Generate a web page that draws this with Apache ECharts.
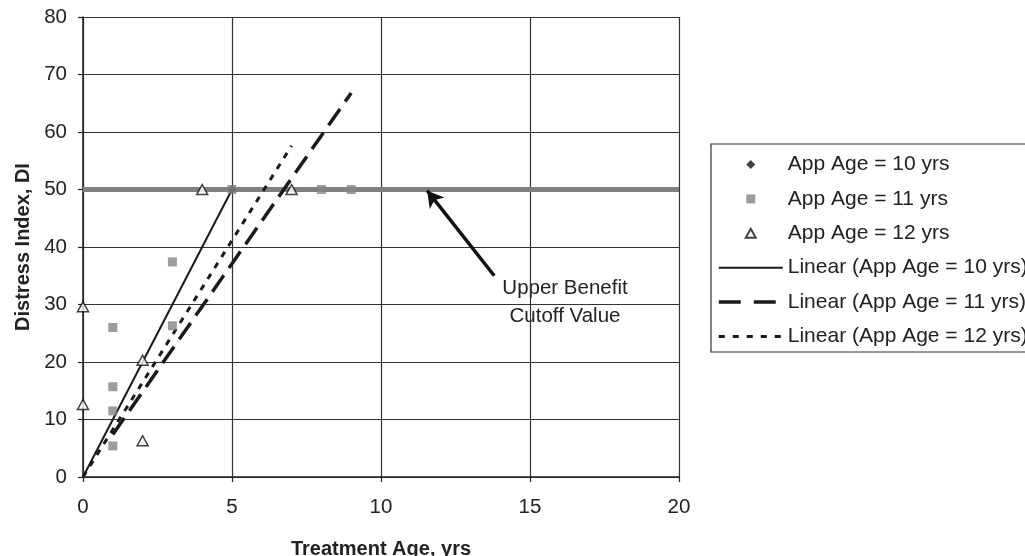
<!DOCTYPE html>
<html>
<head>
<meta charset="utf-8">
<script src="https://cdn.jsdelivr.net/npm/echarts@6/dist/echarts.min.js"></script>
<style>
html,body{margin:0;padding:0;background:#fff;}
#chart{width:1025px;height:556px;}
</style>
</head>
<body>
<div id="chart"></div>
<script>
// ---- data ----
var xTicks = [0, 5, 10, 15, 20];
var yTicks = [0, 10, 20, 30, 40, 50, 60, 70, 80];
var seriesNames = ['App Age = 10 yrs', 'App Age = 11 yrs', 'App Age = 12 yrs'];
var trendNames = ['Linear (App Age = 10 yrs)', 'Linear (App Age = 11 yrs)', 'Linear (App Age = 12 yrs)'];
var app10 = [[5, 50]];
var app11 = [[1, 26], [1, 15.7], [1, 11.5], [1, 5.4], [3, 26.3], [3, 37.4], [5, 50], [8, 50], [9, 50]];
var app12 = [[0, 29.6], [0, 12.6], [2, 20.3], [2, 6.3], [4, 50], [7, 50]];
var trend10 = [[0, 0], [5, 50]];
var trend11 = [[1, 7.4], [9, 66.8]];
var trend12 = [[0, 0], [7, 57.6]];
var benefitLine = [[0, 50], [20, 50]];
var arrowFrom = [13.8, 35.0];
var arrowTo = [11.55, 49.8];
var noteText = 'Upper Benefit\nCutoff Value';

var FONT = '"Liberation Sans", Arial, sans-serif';
var chart = echarts.init(document.getElementById('chart'), null, {renderer: 'canvas'});
var hiddenDot = {color: 'rgba(0,0,0,0)', borderWidth: 0, opacity: 0};

var option = {
  animation: false,
  backgroundColor: '#fff',
  textStyle: {fontFamily: FONT},
  grid: {left: 83, right: 346, top: 17, bottom: 79, containLabel: false, outerBoundsMode: 'none'},
  xAxis: {
    type: 'value', min: xTicks[0], max: xTicks[xTicks.length - 1], interval: 5,
    name: 'Treatment Age, yrs', nameLocation: 'middle', nameGap: 62,
    nameTextStyle: {fontFamily: FONT, fontSize: 20, fontWeight: 'bold', color: '#222'},
    axisLine: {show: true, onZero: false, lineStyle: {color: '#222', width: 1.5}},
    axisTick: {show: true, inside: false, length: 5, lineStyle: {color: '#222', width: 1.2}},
    axisLabel: {fontFamily: FONT, fontSize: 20.5, color: '#222', margin: 20},
    splitLine: {show: true, lineStyle: {color: '#333', width: 1.2}}
  },
  yAxis: {
    type: 'value', min: yTicks[0], max: yTicks[yTicks.length - 1], interval: 10,
    name: 'Distress Index, DI', nameLocation: 'middle', nameGap: 50, nameRotate: 90,
    nameTextStyle: {fontFamily: FONT, fontSize: 20, fontWeight: 'bold', color: '#222'},
    axisLine: {show: true, onZero: false, lineStyle: {color: '#222', width: 1.5}},
    axisTick: {show: true, inside: false, length: 5, lineStyle: {color: '#222', width: 1.2}},
    axisLabel: {fontFamily: FONT, fontSize: 20.5, color: '#222', margin: 16},
    splitLine: {show: true, lineStyle: {color: '#333', width: 1.2}}
  },
  legend: {
    orient: 'vertical', left: 711, top: 144,
    padding: [10, 6, 5, 6], itemGap: 13.4, itemWidth: 64, itemHeight: 9,
    backgroundColor: '#fff', borderColor: '#333', borderWidth: 1.2, borderRadius: 0,
    textStyle: {fontFamily: FONT, fontSize: 21, color: '#222'},
    data: [
      {name: seriesNames[0], icon: 'path://M5,0L10,5L5,10L0,5Z'},
      {name: seriesNames[1], icon: 'path://M0,0H10V10H0Z'},
      {name: seriesNames[2], icon: 'path://M5,0L10,9L0,9Z'},
      {name: trendNames[0], itemStyle: hiddenDot},
      {name: trendNames[1], itemStyle: hiddenDot, lineStyle: {type: [22, 13], width: 3.5}},
      {name: trendNames[2], itemStyle: hiddenDot, lineStyle: {type: [6, 8], width: 3}}
    ]
  },
  graphic: [{
    type: 'group', left: 488, top: 267, z: 50,
    children: [
      {type: 'rect', shape: {x: 0, y: 0, width: 154, height: 70}, style: {fill: '#fff'}},
      {type: 'text', x: 77, y: 35, style: {text: noteText, fontFamily: FONT, fontSize: 20.5, lineHeight: 28, fill: '#222', align: 'center', verticalAlign: 'middle'}}
    ]
  }],
  series: [
    {
      name: 'benefit', type: 'line', data: benefitLine, symbol: 'none', z: 1,
      lineStyle: {color: '#808080', width: 5}, silent: true,
      markLine: {
        silent: true, symbol: ['none', 'arrow'], symbolSize: [14, 16], label: {show: false},
        lineStyle: {color: '#111', width: 3.5, type: 'solid'},
        emphasis: {disabled: true},
        data: [[{coord: arrowFrom}, {coord: arrowTo}]]
      }
    },
    {name: trendNames[0], type: 'line', data: trend10, symbol: 'none', z: 2,
      itemStyle: {color: '#1a1a1a'},
      lineStyle: {color: '#1a1a1a', width: 2, type: 'solid'}},
    {name: trendNames[1], type: 'line', data: trend11, symbol: 'none', z: 2,
      itemStyle: {color: '#1a1a1a'},
      lineStyle: {color: '#1a1a1a', width: 3.5, type: [20, 9]}},
    {name: trendNames[2], type: 'line', data: trend12, symbol: 'none', z: 2,
      itemStyle: {color: '#1a1a1a'},
      lineStyle: {color: '#1a1a1a', width: 3, type: [6, 7]}},
    {name: seriesNames[0], type: 'scatter', data: app10, symbol: 'diamond', symbolSize: 9, z: 3,
      itemStyle: {color: '#111'}},
    {name: seriesNames[1], type: 'scatter', data: app11, symbol: 'rect', symbolSize: 9, z: 4,
      itemStyle: {color: '#858585'}},
    {name: seriesNames[2], type: 'scatter', data: app12, symbol: 'triangle', symbolSize: [11, 10], z: 5,
      itemStyle: {color: '#fff', borderColor: '#111', borderWidth: 1.5}}
  ]
};
chart.setOption(option);
</script>
</body>
</html>
